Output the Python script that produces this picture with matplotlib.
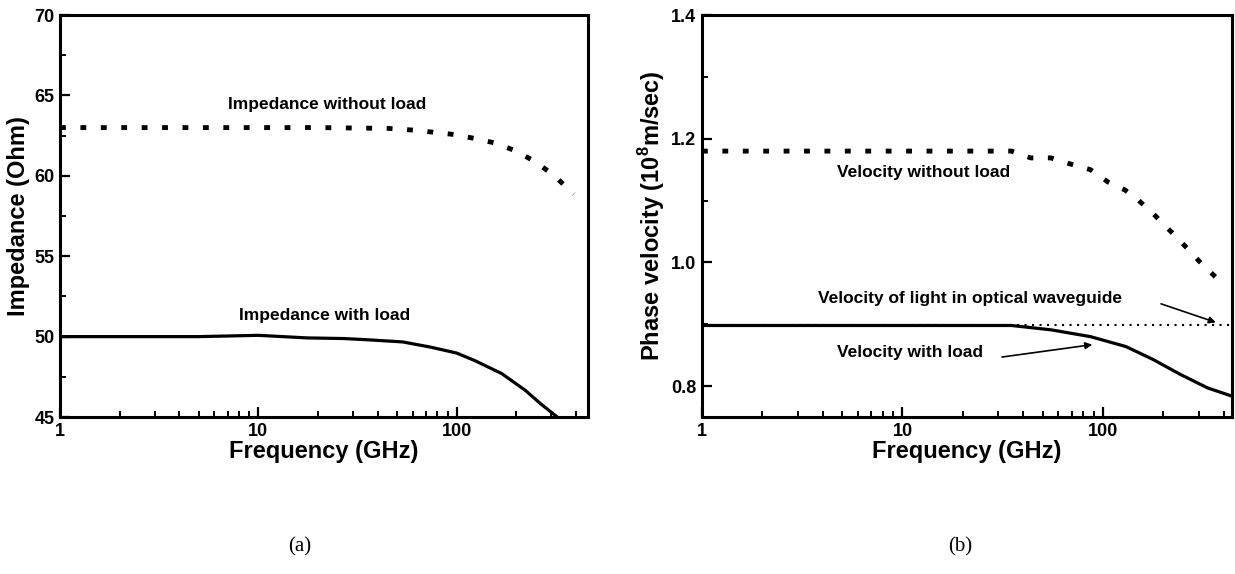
import matplotlib
matplotlib.use("Agg")
import matplotlib.pyplot as plt
from matplotlib.ticker import FixedLocator, LogLocator, NullFormatter

plt.rcParams["font.family"] = ["Liberation Sans", "DejaVu Sans"]
plt.rcParams["font.weight"] = "bold"
plt.rcParams["mathtext.fontset"] = "custom"
plt.rcParams["mathtext.bf"] = "Liberation Sans:bold"
plt.rcParams["mathtext.rm"] = "Liberation Sans:bold"

# (a) characteristic impedance vs frequency
z_noload_f = [1, 5, 20, 45, 61, 78, 97, 124, 155, 194, 248, 309, 390]
z_noload = [63.0, 63.0, 63.0, 62.95, 62.84, 62.70, 62.57, 62.32, 62.05, 61.6, 60.9, 60.04, 58.86]
z_load_f = [1, 5, 10, 17.6, 27, 36, 53.5, 73, 100, 124, 169, 222, 265, 322]
z_load = [50.0, 50.0, 50.08, 49.92, 49.88, 49.8, 49.67, 49.36, 48.98, 48.5, 47.7, 46.66, 45.83, 45.0]

# (b) phase velocity vs frequency, in 1e8 m/s
v_noload_f = [1, 10, 35, 43.6, 55, 69, 86.6, 106, 129, 151, 178, 203, 233, 268, 304, 374]
v_noload = [1.18, 1.18, 1.18, 1.169, 1.169, 1.159, 1.150, 1.130, 1.117, 1.100, 1.079,
            1.060, 1.041, 1.020, 1.001, 0.973]
v_load_f = [1, 10, 35, 55, 86.6, 130, 178, 243, 333, 438]
v_load = [0.898, 0.898, 0.898, 0.891, 0.880, 0.864, 0.843, 0.819, 0.797, 0.784]
v_light_f = [1, 438]
v_light = [0.899, 0.899]

DOTS = (0, (1.2, 3.0))

fig = plt.figure(figsize=(12.35, 5.74), dpi=100)
ax_a = fig.add_axes([0.0486, 0.2735, 0.4275, 0.7003])
ax_b = fig.add_axes([0.5684, 0.2735, 0.4291, 0.7003])


def style_axes(ax, ymajor, yminor):
    ax.set_xscale("log")
    for spine in ax.spines.values():
        spine.set_linewidth(2.2)
    ax.xaxis.set_major_locator(FixedLocator([1, 10, 100]))
    ax.xaxis.set_minor_locator(LogLocator(base=10, subs=range(2, 10)))
    ax.xaxis.set_minor_formatter(NullFormatter())
    ax.set_xticklabels(["1", "10", "100"])
    ax.yaxis.set_major_locator(FixedLocator(ymajor))
    ax.yaxis.set_minor_locator(FixedLocator(yminor))
    ax.tick_params(which="major", direction="in", length=7, width=1.6,
                   labelsize=13, pad=4, top=False, right=False)
    ax.tick_params(which="minor", direction="in", length=4, width=1.4,
                   top=False, right=False)
    ax.set_xlabel("Frequency (GHz)", fontsize=17, fontweight="bold", labelpad=0)


ax_a.plot(z_noload_f, z_noload, color="black", lw=3.5, linestyle=DOTS)
ax_a.plot(z_load_f, z_load, color="black", lw=2.3)
ax_a.set_xlim(1, 460)
ax_a.set_ylim(45, 70)
style_axes(ax_a, [45, 50, 55, 60, 65, 70], [47.5, 52.5, 57.5, 62.5, 67.5])
ax_a.set_ylabel("Impedance (Ohm)", fontsize=17, fontweight="bold", labelpad=3)
ax_a.text(22.2, 64.46, "Impedance without load", ha="center", va="center", fontsize=12.5)
ax_a.text(21.5, 51.33, "Impedance with load", ha="center", va="center", fontsize=12.5)

ax_b.plot(v_light_f, v_light, color="black", lw=1.5, linestyle=(0, (1, 2.6)))
ax_b.plot(v_noload_f, v_noload, color="black", lw=3.5, linestyle=DOTS)
ax_b.plot(v_load_f, v_load, color="black", lw=2.3)
ax_b.set_xlim(1, 440)
ax_b.set_ylim(0.75, 1.4)
style_axes(ax_b, [0.8, 1.0, 1.2, 1.4], [0.9, 1.1, 1.3])
ax_b.set_yticklabels(["0.8", "1.0", "1.2", "1.4"])
ax_b.set_ylabel(r"Phase velocity (10$^{\mathbf{8}}$m/sec)", fontsize=17,
                fontweight="bold", labelpad=3)
ax_b.text(12.8, 1.146, "Velocity without load", ha="center", va="center", fontsize=12.5)
ax_b.text(21.7, 0.942, "Velocity of light in optical waveguide",
          ha="center", va="center", fontsize=12.5)
ax_b.text(10.9, 0.855, "Velocity with load", ha="center", va="center", fontsize=12.5)
arrow = dict(arrowstyle="-|>", color="black", lw=1.2, mutation_scale=10,
             shrinkA=0, shrinkB=0)
ax_b.annotate("", xy=(366, 0.903), xytext=(195, 0.933), arrowprops=arrow)
ax_b.annotate("", xy=(88.5, 0.867), xytext=(31.4, 0.847), arrowprops=arrow)

fig.text(300 / 1235, 1 - 547 / 574, "(a)", family="Liberation Serif",
         fontweight="normal", fontsize=15, ha="center", va="center")
fig.text(960 / 1235, 1 - 547 / 574, "(b)", family="Liberation Serif",
         fontweight="normal", fontsize=15, ha="center", va="center")

fig.savefig("out.png", dpi=100)
